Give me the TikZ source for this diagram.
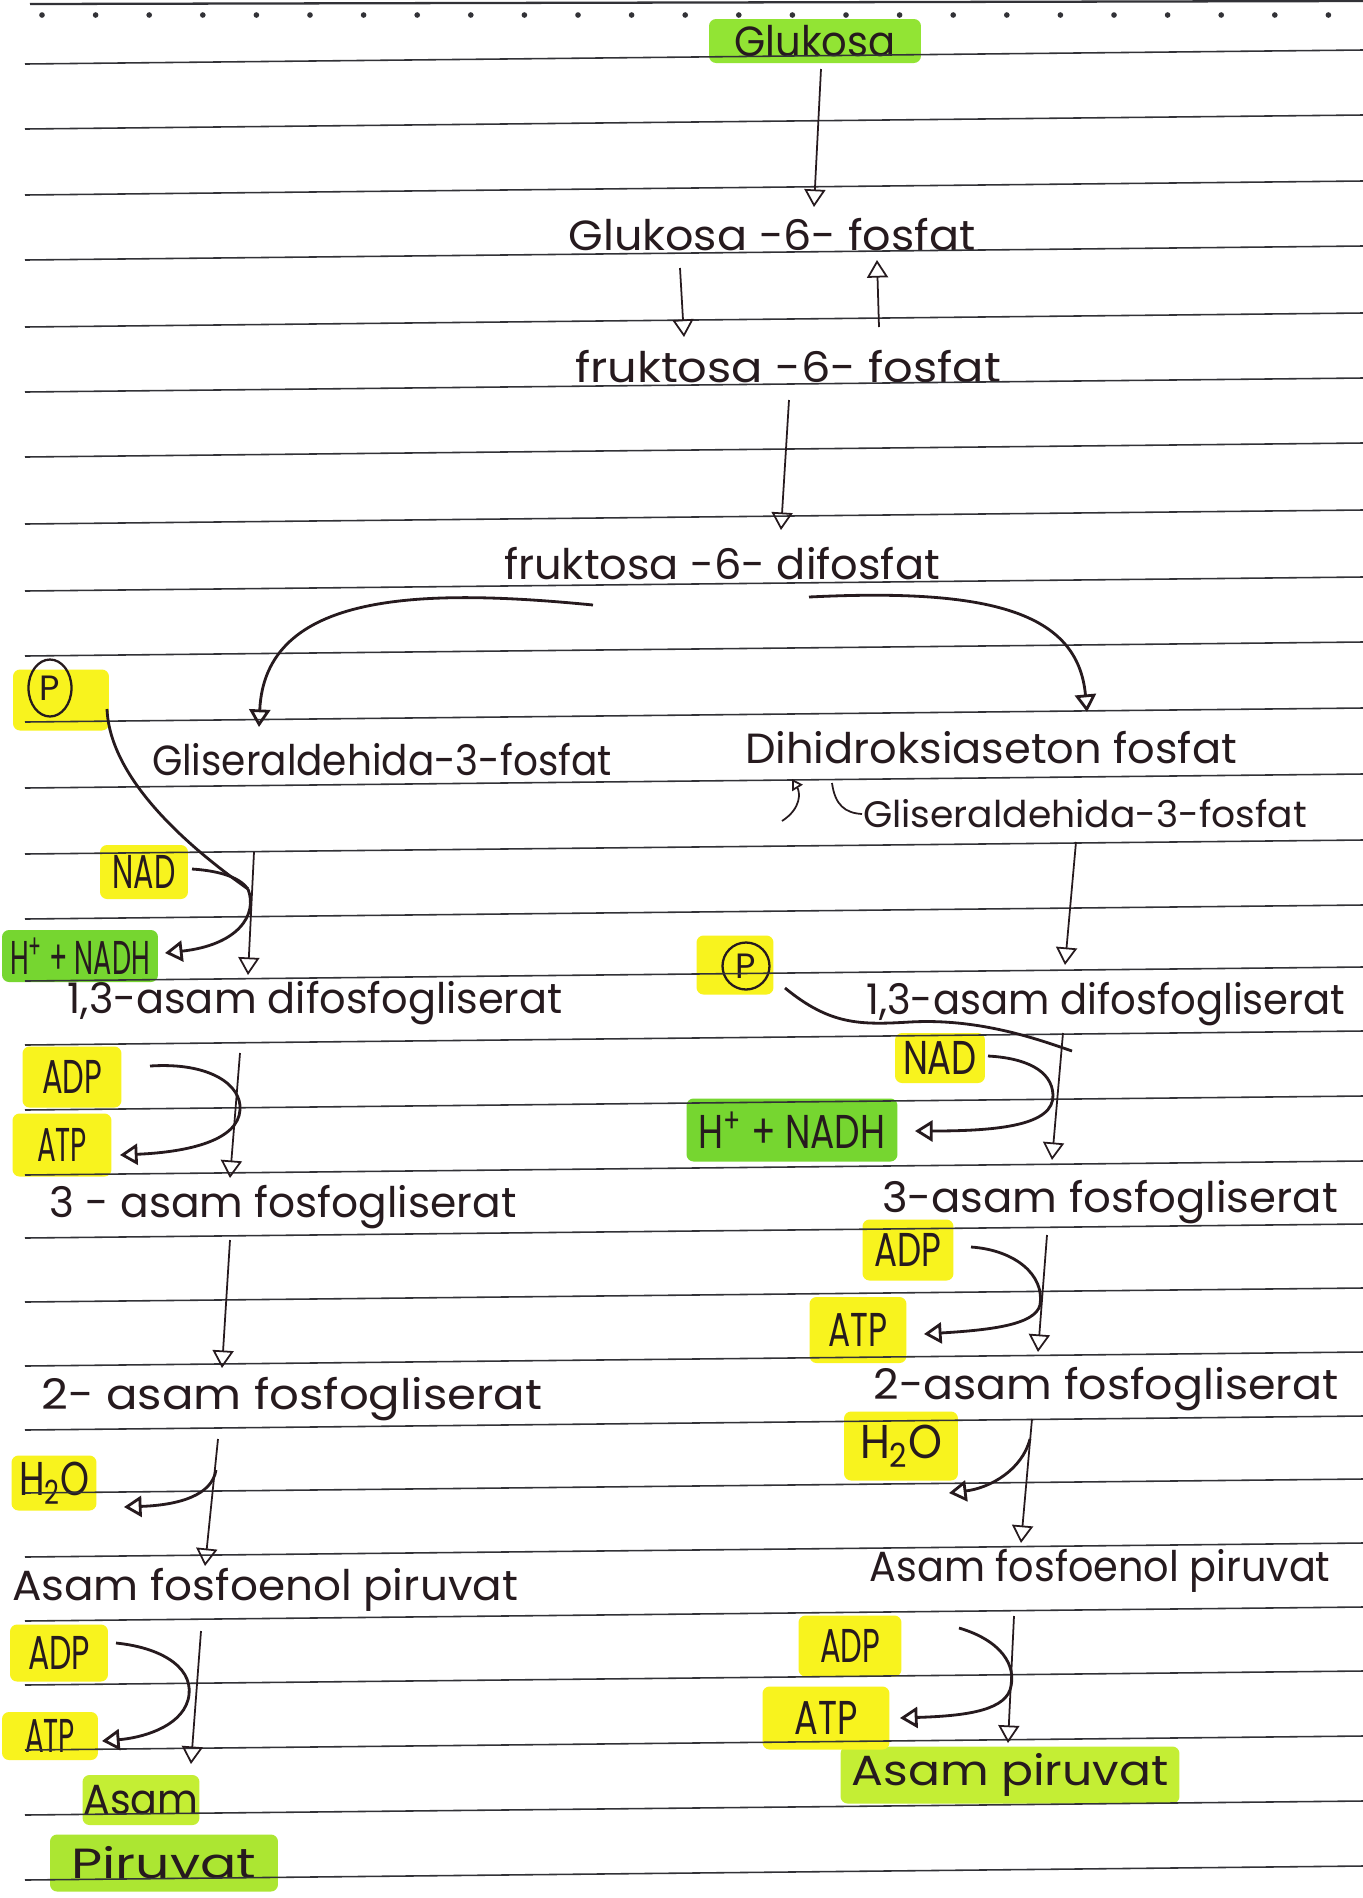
\documentclass[tikz,border=0pt]{standalone}
\usepackage{fontspec}
\setmainfont{Poppins}
\usetikzlibrary{arrows.meta,calc,shapes.geometric}
\definecolor{ink}{RGB}{38,26,30}
\definecolor{rulec}{RGB}{50,50,55}
\definecolor{hly}{RGB}{248,243,30}
\definecolor{hlg}{RGB}{146,228,52}
\definecolor{hlgg}{RGB}{118,214,48}
\definecolor{hlyg}{RGB}{196,238,52}
\definecolor{hlyg2}{RGB}{172,230,50}
\newcommand{\hw}[2]{\resizebox{#1}{\height}{#2}}
\begin{document}
\begin{tikzpicture}[x=0.02cm,y=-0.02cm,
  every node/.style={inner sep=0pt, text=ink},
  txt/.style={font=\fontsize{24}{28}\selectfont},
  txts/.style={font=\fontsize{21}{25}\selectfont},
  lab/.style={font=\fontsize{27}{30}\selectfont},
  hl/.style={fill=#1, rounded corners=4pt},
  circ/.style={draw=ink, line width=1.3pt, ellipse, font=\fontsize{20}{22}\selectfont},
  arr/.style={draw=ink, line width=1pt, -{Triangle[open,length=10pt,width=12pt]}},
  sarr/.style={draw=ink, line width=1.6pt, -{Triangle[open,length=10pt,width=12pt]}},
  harr/.style={draw=ink, line width=1pt, -{Triangle[open,length=6pt,width=7pt]}},
  sline/.style={draw=ink, line width=1.6pt},
  hline/.style={draw=ink, line width=1pt},
  ruled/.style={draw=rulec, line width=0.9pt}]

\fill[white] (0,0) rectangle (1363,1898);
\useasboundingbox (0,0) rectangle (1363,1898);

% ---------- nodes ----------
\node[hl=hlg, minimum width=4.24cm, minimum height=0.88cm, txt] (glu) at (815,41) {\hw{3.22cm}{Glukosa}};
\node[txt] (g6p) at (772,235) {\hw{8.14cm}{Glukosa -6- fosfat}};
\node[txt] (f6p) at (788,367) {\hw{8.52cm}{fruktosa -6- fosfat}};
\node[txt] (fdp) at (722,564) {\hw{8.72cm}{fruktosa -6- difosfat}};
\node[txt] (gapL) at (382,760) {\hw{9.2cm}{Gliseraldehida-3-fosfat}};
\node[txt] (dhap) at (991,748) {\hw{9.84cm}{Dihidroksiaseton fosfat}};
\node[txts] (gapR) at (1085,814) {\hw{8.88cm}{Gliseraldehida-3-fosfat}};
\node[txt] (bpgL) at (315,1003) {\hw{9.9cm}{1,3-asam difosfogliserat}};
\node[txt] (bpgR) at (1106,1004) {\hw{9.58cm}{1,3-asam difosfogliserat}};
\node[txt] (pga3L) at (283,1207) {\hw{9.34cm}{3 - asam fosfogliserat}};
\node[txt] (pga3R) at (1110,1202) {\hw{9.12cm}{3-asam fosfogliserat}};
\node[txt] (pga2L) at (292,1399) {\hw{10.02cm}{2- asam fosfogliserat}};
\node[txt] (pga2R) at (1106,1389) {\hw{9.3cm}{2-asam fosfogliserat}};
\node[txt] (pepL) at (265,1590) {\hw{10.12cm}{Asam fosfoenol piruvat}};
\node[txt] (pepR) at (1100,1571) {\hw{9.22cm}{Asam fosfoenol piruvat}};
\node[hl=hlyg, minimum width=6.78cm, minimum height=1.14cm, txt] (pyrR) at (1010,1775) {\hw{6.34cm}{Asam piruvat}};
\node[hl=hlyg, minimum width=2.34cm, minimum height=1.0cm, txt] (pyrL1) at (141,1800) {\hw{2.3cm}{Asam}};
\node[hl=hlyg2, minimum width=4.56cm, minimum height=1.14cm, txt] (pyrL2) at (164,1863) {\hw{3.7cm}{Piruvat}};

\node[hl=hly, minimum width=1.92cm, minimum height=1.22cm] (pLhl) at (61,700) {};
\node[circ, minimum width=0.86cm, minimum height=1.14cm] (pL) at (50,688) {P};
\node[hl=hly, minimum width=1.54cm, minimum height=1.18cm] (pRhl) at (735,965) {};
\node[circ, minimum width=0.94cm, minimum height=0.94cm] (pR) at (746,966) {P};

\node[hl=hly, lab, minimum width=1.76cm, minimum height=1.08cm] (nadL) at (144,872) {\hw{1.26cm}{NAD}};
\node[hl=hlgg, lab, minimum width=3.12cm, minimum height=1.04cm] (hnadhL) at (80,956) {\hw{2.8cm}{H\textsuperscript{+} + NADH}};
\node[hl=hly, lab, minimum width=1.8cm, minimum height=1.0cm] (nadR) at (940,1058) {\hw{1.48cm}{NAD}};
\node[hl=hlgg, lab, minimum width=4.22cm, minimum height=1.26cm] (hnadhR) at (792,1130) {\hw{3.74cm}{H\textsuperscript{+} + NADH}};
\node[hl=hly, lab, minimum width=1.98cm, minimum height=1.22cm] (adpL1) at (72,1077) {\hw{1.2cm}{ADP}};
\node[hl=hly, lab, minimum width=1.98cm, minimum height=1.26cm] (atpL1) at (62,1145) {\hw{1.0cm}{ATP}};
\node[hl=hly, lab, minimum width=1.82cm, minimum height=1.22cm] (adpR1) at (908,1250) {\hw{1.34cm}{ADP}};
\node[hl=hly, lab, minimum width=1.94cm, minimum height=1.32cm] (atpR1) at (858,1330) {\hw{1.18cm}{ATP}};
\node[hl=hly, lab, minimum width=1.7cm, minimum height=1.1cm] (h2oL) at (54,1483) {\hw{1.4cm}{H\textsubscript{2}O}};
\node[hl=hly, lab, minimum width=2.28cm, minimum height=1.38cm] (h2oR) at (901,1446) {\hw{1.64cm}{H\textsubscript{2}O}};
\node[hl=hly, lab, minimum width=1.96cm, minimum height=1.14cm] (adpL2) at (59,1653) {\hw{1.24cm}{ADP}};
\node[hl=hly, lab, minimum width=1.92cm, minimum height=0.96cm] (atpL2) at (50,1736) {\hw{1.0cm}{ATP}};
\node[hl=hly, lab, minimum width=2.06cm, minimum height=1.22cm] (adpR2) at (850,1646) {\hw{1.2cm}{ADP}};
\node[hl=hly, lab, minimum width=2.54cm, minimum height=1.26cm] (atpR2) at (826,1718) {\hw{1.26cm}{ATP}};

% ---------- ruled paper ----------
\draw[rulec, line width=1.3pt] (30,4) -- (1363,1);
\foreach \i in {0,...,24} \fill[rulec] (42+53.6*\i,15) circle[radius=1.6pt];
\foreach \y in {52,117,183,248,315,380,445,512,579,644,710,776,842,907,969,1033,1098,1163,1226,1290,1354,1418,1481,1545,1609,1673,1738,1803,1868}
  \draw[ruled] (25,\y+12) -- (1363,\y-2);

% ---------- connectors: upper part ----------
\draw[arr] ($(glu)+(6,28)$) -- ($(g6p)+(42,-28)$);
\draw[arr] ($(g6p)+(-92,33)$) -- ($(f6p)+(-104,-30)$);
\draw[arr] ($(f6p)+(91,-40)$) -- ($(g6p)+(105,25)$);
\draw[arr] ($(f6p)+(1,33)$) -- ($(fdp)+(59,-34)$);
\draw[sarr] ($(fdp)+(-129,41)$) .. controls (420,588) and (265,592) .. ($(gapL)+(-123,-33)$);
\draw[sarr] ($(fdp)+(87,33)$) .. controls (990,588) and (1078,612) .. ($(dhap)+(96,-36)$);
\draw[harr] ($(gapR)+(-303,7)$) .. controls (802,808) and (800,792) .. ($(dhap)+(-199,31)$);
\draw[hline] ($(dhap)+(-159,35)$) .. controls (835,805) and (845,813) .. ($(gapR)+(-223,0)$);

% ---------- left column ----------
\coordinate (mL) at (248,889);
\draw[arr] ($(gapL)+(-128,92)$) -- ($(bpgL)+(-67,-28)$);
\draw[sline] ($(pL)+(57,21)$) .. controls (110,780) and (190,848) .. (mL);
\draw[sline] ($(nadL)+(48,-3)$) .. controls (222,871) and (240,878) .. (mL);
\draw[sarr] (mL) .. controls (258,915) and (238,945) .. ($(hnadhL)+(85,-3)$);
\draw[arr] ($(bpgL)+(-75,50)$) -- ($(pga3L)+(-53,-29)$);
\draw[sarr] ($(adpL1)+(78,-11)$) .. controls (210,1062) and (242,1085) .. (240,1110) .. controls (238,1140) and (190,1152) .. ($(atpL1)+(58,10)$);
\draw[arr] ($(pga3L)+(-53,33)$) -- ($(pga2L)+(-70,-31)$);
\draw[arr] ($(pga2L)+(-74,40)$) -- ($(pepL)+(-60,-24)$);
\draw[sarr] ($(pga2L)+(-76,71)$) .. controls (212,1495) and (180,1505) .. ($(h2oL)+(70,24)$);
\draw[arr] ($(pepL)+(-64,41)$) -- ($(pyrL1)+(50,-36)$);
\draw[sarr] ($(adpL2)+(57,-10)$) .. controls (165,1648) and (196,1670) .. (188,1700) .. controls (180,1728) and (140,1738) .. ($(atpL2)+(52,5)$);

% ---------- right column ----------
\coordinate (mR) at (1072,1051);
\draw[arr] ($(gapR)+(-9,28)$) -- ($(bpgR)+(-41,-39)$);
\draw[sline] ($(pR)+(39,22)$) .. controls (830,1025) and (860,1025) .. (910,1022) .. controls (980,1018) and (1040,1040) .. (mR);
\draw[sarr] ($(nadR)+(48,-2)$) .. controls (1025,1058) and (1052,1070) .. (1053,1095) .. controls (1054,1125) and (1000,1131) .. ($(hnadhR)+(123,1)$);
\draw[arr] ($(bpgR)+(-43,29)$) -- ($(pga3R)+(-58,-42)$);
\draw[sarr] ($(adpR1)+(63,-3)$) .. controls (1015,1250) and (1045,1275) .. (1040,1305) .. controls (1035,1325) and (990,1330) .. ($(atpR1)+(66,4)$);
\draw[arr] ($(pga3R)+(-63,33)$) -- ($(pga2R)+(-68,-37)$);
\draw[arr] ($(pga2R)+(-74,30)$) -- ($(pepR)+(-79,-28)$);
\draw[sarr] ($(pga2R)+(-76,50)$) .. controls (1022,1470) and (990,1488) .. ($(h2oR)+(48,47)$);
\draw[arr] ($(pepR)+(-86,45)$) -- ($(pyrR)+(-2,-32)$);
\draw[sarr] ($(adpR2)+(109,-18)$) .. controls (1000,1640) and (1018,1665) .. (1010,1690) .. controls (1002,1712) and (960,1716) .. ($(atpR2)+(74,0)$);
\end{tikzpicture}
\end{document}
